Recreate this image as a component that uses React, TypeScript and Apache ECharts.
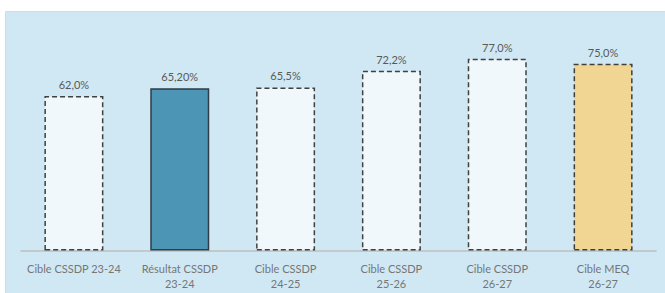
import React, { useEffect, useRef } from "react";
import * as echarts from "echarts";

const categories = [
  "Cible CSSDP 23-24",
  "Résultat CSSDP\n23-24",
  "Cible CSSDP\n24-25",
  "Cible CSSDP\n25-26",
  "Cible CSSDP\n26-27",
  "Cible MEQ\n26-27",
];
const values = [62.0, 65.2, 65.5, 72.2, 77.0, 75.0];
const valueLabels = ["62,0%", "65,20%", "65,5%", "72,2%", "77,0%", "75,0%"];
const barKinds = ["target", "result", "target", "target", "target", "meq"];

const FONT = "Lato";

export default function App() {
  const ref = useRef<HTMLDivElement>(null);
  useEffect(() => {
    if (!ref.current) return;
    const chart = echarts.init(ref.current, null, { renderer: "svg" });
    const styleFor = (kind: string) => {
      if (kind === "result")
        return { color: "#4d95b5", borderColor: "#2e3d47", borderWidth: 1.5, borderType: "solid" };
      if (kind === "meq")
        return { color: "#f0d692", borderColor: "#404040", borderWidth: 1.5, borderType: [5, 3] };
      return { color: "#f0f8fc", borderColor: "#404040", borderWidth: 1.5, borderType: [5, 3] };
    };
    chart.setOption({
      animation: false,
      graphic: [
        {
          type: "rect",
          z: -10,
          silent: true,
          shape: { x: 5.5, y: 11.5, width: 670, height: 290 },
          style: { fill: "#cfe8f4", stroke: "#d9d9d9", lineWidth: 1 },
        },
      ],
      grid: { left: 21, right: 9, top: 1.5, bottom: 42.5 },
      xAxis: {
        type: "category",
        data: categories,
        axisTick: { show: false },
        axisLine: { lineStyle: { color: "#bfbfbf", width: 1.5 } },
        axisLabel: {
          interval: 0,
          color: "#767676",
          fontFamily: FONT,
          fontSize: 11,
          lineHeight: 14.5,
          margin: 11,
        },
      },
      yAxis: { type: "value", min: 0, max: 100, show: false, splitLine: { show: false } },
      series: [
        {
          type: "bar",
          barWidth: 59,
          data: values.map((v, i) => ({
            value: v,
            itemStyle: styleFor(barKinds[i]),
            label: { formatter: valueLabels[i] },
          })),
          label: {
            show: true,
            position: "top",
            distance: 6,
            color: "#595959",
            fontFamily: FONT,
            fontSize: 11,
          },
        },
      ],
    });
    return () => chart.dispose();
  }, []);
  return (
    <div
      ref={ref}
      style={{ position: "absolute", left: 0, top: 0, width: 665, height: 293, background: "#fff" }}
    />
  );
}
